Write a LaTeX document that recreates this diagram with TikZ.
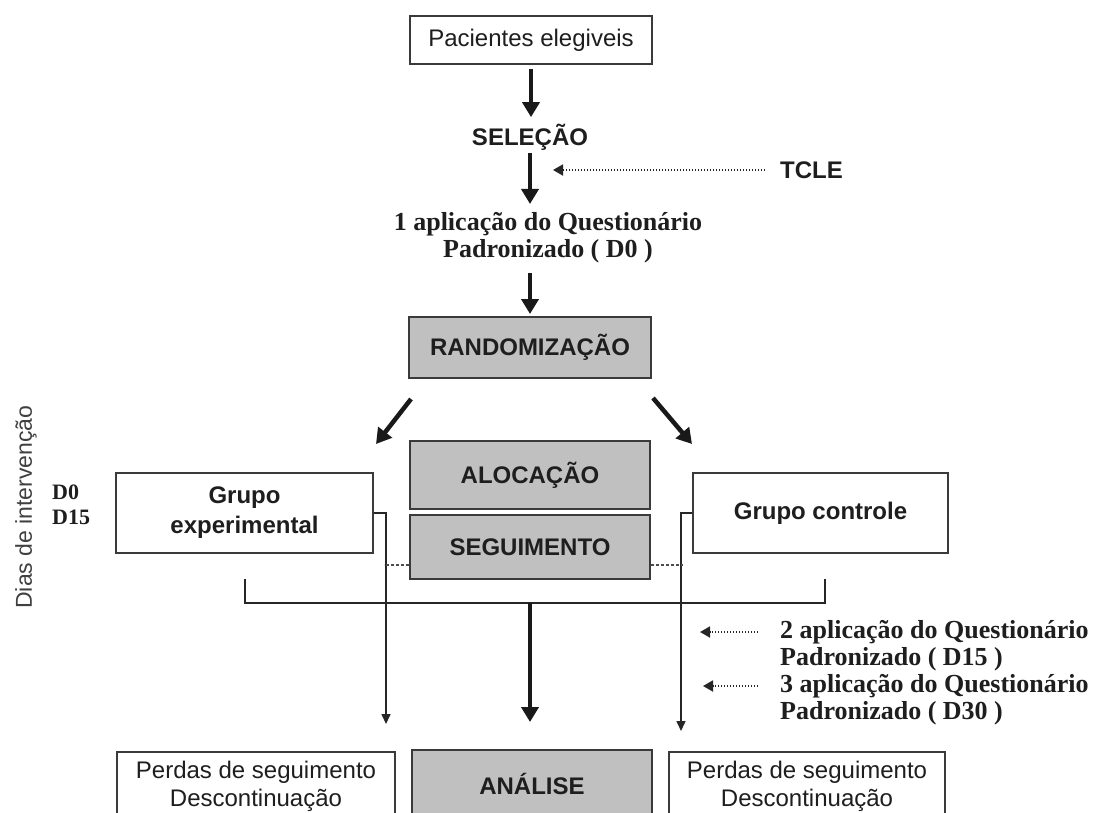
\documentclass[tikz,border=0pt]{standalone}
\usepackage{fontspec}
\setmainfont{Liberation Serif}
\setsansfont{Liberation Sans}
\usetikzlibrary{arrows.meta,calc}
\definecolor{boxline}{HTML}{3A3A3A}
\definecolor{boxfill}{HTML}{C0C0C0}
\definecolor{txt}{HTML}{1E1E1E}
\begin{document}
\begin{tikzpicture}[x=1pt,y=-1pt,
  box/.style={draw=boxline,line width=2pt,fill=white,inner sep=0pt,align=center,text=txt,
    font=\sffamily\fontsize{24}{28}\selectfont},
  boldbox/.style={box,font=\sffamily\bfseries\fontsize{24}{30}\selectfont},
  gbox/.style={box,fill=boxfill,font=\sffamily\bfseries\fontsize{24}{28}\selectfont},
  lbl/.style={inner sep=0pt,text=txt,font=\sffamily\bfseries\fontsize{24}{28}\selectfont},
  serif/.style={inner sep=0pt,text=txt,font=\rmfamily\bfseries\fontsize{26}{27}\selectfont},
  big/.style={line width=4.5pt,draw=black!90,-{Triangle[width=17pt,length=15pt]}},
  thinarr/.style={line width=1.5pt,draw=black!85,-{Triangle[width=9pt,length=10pt]}},
  dotarr/.style={line width=1.8pt,draw=black!85,dash pattern=on 1.5pt off 1.5pt,-{Triangle[width=11pt,length=10pt]}},
  dashln/.style={line width=1.5pt,draw=black!70,dash pattern=on 3pt off 2pt},
  brk/.style={line width=2pt,draw=black!85}
]
\clip (0,0) rectangle (1094,812);
\fill[white] (0,0) rectangle (1094,812);

% nodes
\node[box,minimum width=242pt,minimum height=48pt] (pac) at (531,40) {Pacientes elegiveis};
\node[lbl] (sel) at (530,137) {SELEÇÃO};
\node[lbl,anchor=west] (tcle) at (780,170) {TCLE};
\node[serif,align=center] (q1) at (548,238) {1 aplicação do Questionário\\Padronizado ( D0 )};
\node[gbox,minimum width=242pt,minimum height=61pt] (rand) at (530,347.5) {RANDOMIZAÇÃO};
\node[gbox,minimum width=240pt,minimum height=68pt] (aloc) at (530,475) {ALOCAÇÃO};
\node[gbox,minimum width=240pt,minimum height=64pt] (seg) at (530,547) {SEGUIMENTO};
\node[boldbox,minimum width=257pt,minimum height=80pt] (gexp) at (244.5,513) {Grupo\\experimental};
\node[boldbox,minimum width=255pt,minimum height=80pt] (gctl) at (820.5,513) {Grupo controle};
\node[box,minimum width=278pt,minimum height=68pt] (perd1) at (256,786) {Perdas de seguimento\\Descontinuação};
\node[gbox,minimum width=240pt,minimum height=68pt] (anal) at (532,784) {ANÁLISE};
\node[box,minimum width=276pt,minimum height=68pt] (perd2) at (807,786) {Perdas de seguimento\\Descontinuação};
\node[serif,align=left,anchor=west] (q2) at (780,645.5) {2 aplicação do Questionário\\Padronizado ( D15 )};
\node[serif,align=left,anchor=west] (q3) at (780,700) {3 aplicação do Questionário\\Padronizado ( D30 )};
\node[serif,align=left,anchor=west,font=\rmfamily\bfseries\fontsize{22}{25}\selectfont] (days) at (52,505) {D0\\D15};
\node[inner sep=0pt,text=txt!85,rotate=90,font=\sffamily\fontsize{23}{27}\selectfont] (dias) at (26,507) {Dias de intervenção};

% main flow
\draw[big,shorten <=4pt,shorten >=6.5pt] (pac.south) -- (pac.south |- sel.north);
\draw[big,shorten <=2.5pt,shorten >=8.5pt] (sel.south) -- (sel.south |- q1.north);
\draw[big,shorten <=9.5pt,shorten >=2pt] (sel.south |- q1.south) -- (rand.north);
\draw[dotarr,shorten <=15pt,shorten >=22pt] (tcle.west) -- (tcle.west -| pac.south);

% randomisation split
\draw[big] ($(rand.south west)+(3,20)$) -- ($(gexp.north east)+(2,-28)$);
\draw[big] ($(rand.south east)+(1,19)$) -- ($(gctl.north west)+(0,-28)$);

% group follow-up lines
\draw[thinarr,shorten >=27pt] (gexp.east) -- ++(12,0) coordinate (gl) -- (gl |- perd1.north);
\draw[thinarr,shorten >=20pt] (gctl.west) -- ++(-11,0) coordinate (gr) -- (gr |- perd2.north);
\draw[dashln] ([yshift=-18pt]seg.west) -- ++(-25,0);
\draw[dashln] ([yshift=-18pt]seg.east) -- ++(32,0);

% bracket and analysis arrow
\draw[brk] ([yshift=-25pt]gexp.south) -- ++(0,24) coordinate (bl) -- ($(bl -| gctl.south)+(4.5,0)$) -- ++(0,-24);
\draw[big,shorten >=27pt] (bl -| seg.south) -- (seg.south |- anal.north);

% questionnaire applications
\draw[dotarr] ([xshift=-22pt,yshift=13.5pt]q2.west) -- ++(-58,0);
\draw[dotarr] ([xshift=-22pt,yshift=14pt]q3.west) -- ++(-55,0);
\end{tikzpicture}
\end{document}
